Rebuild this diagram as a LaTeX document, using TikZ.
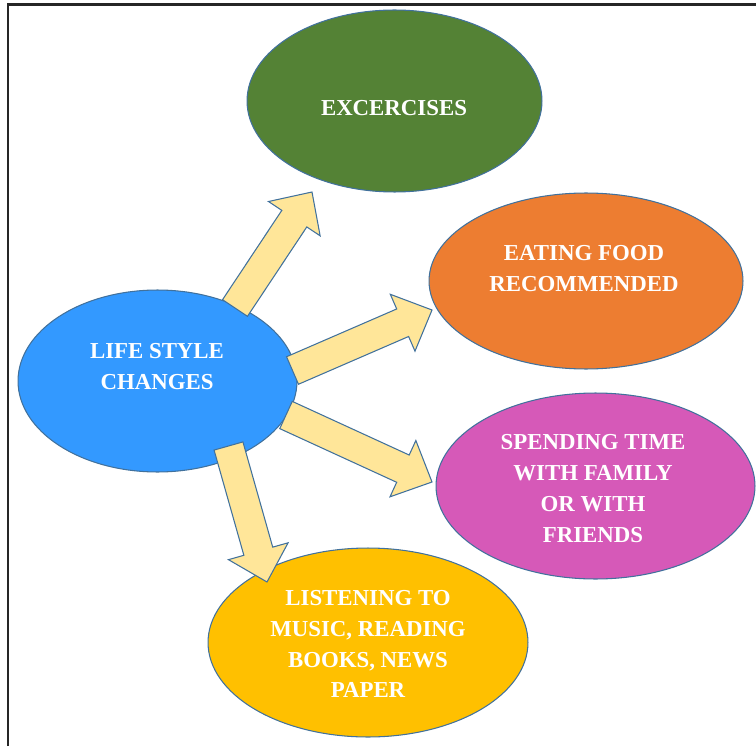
\documentclass[tikz,border=0pt]{standalone}
\usepackage{fontspec}
\setmainfont{Liberation Serif}
\usetikzlibrary{calc,shapes.geometric}
\definecolor{cgreen}{HTML}{548235}
\definecolor{corange}{HTML}{ED7D31}
\definecolor{cmagenta}{HTML}{D659B8}
\definecolor{cblue}{HTML}{3399FF}
\definecolor{cyellow}{HTML}{FFC000}
\definecolor{carrow}{HTML}{FFE699}
\definecolor{cedge}{HTML}{41719C}
\newcommand\blockarr[2]{%
  \path (#2) coordinate (T) ($(#2)!0.64cm!(#1)$) coordinate (H);
  \draw[barrow] ($(#1)!0.3cm!90:(#2)$) -- ($(H)!0.3cm!90:(T)$) -- ($(H)!0.62cm!90:(T)$)
    -- (T) -- ($(H)!0.62cm!-90:(T)$) -- ($(H)!0.3cm!-90:(T)$) -- ($(#1)!0.3cm!-90:(#2)$) -- cycle;}
\begin{document}
\begin{tikzpicture}[x=0.02cm,y=-0.02cm,
  ell/.style={ellipse,draw=cedge,line width=0.6pt,inner sep=0pt},
  lbl/.style={text=white,font=\fontsize{13}{17.6}\selectfont\bfseries,align=center,inner sep=0pt},
  barrow/.style={fill=carrow,draw=cedge,line width=0.6pt,line join=miter}]
\useasboundingbox (0,0) rectangle (756,746);
\draw[line width=1.2pt,black!85] (8,746) -- (8,4.5) -- (756,4.5);
% ellipses
\node[ell,fill=cgreen,minimum width=5.9cm,minimum height=3.64cm] (exc) at (394.5,101) {};
\node[ell,fill=corange,minimum width=6.28cm,minimum height=3.52cm] (eat) at (586,281) {};
\node[ell,fill=cmagenta,minimum width=6.38cm,minimum height=3.72cm] (spend) at (595.5,486) {};
\node[ell,fill=cyellow,minimum width=6.4cm,minimum height=3.78cm] (listen) at (368,642.5) {};
\node[ell,fill=cblue,minimum width=5.58cm,minimum height=3.64cm] (life) at (157.5,381) {};
% arrow end points
\coordinate (s1) at (235,308); \coordinate (t1) at (312,192);
\coordinate (s2) at (292.5,370.5); \coordinate (t2) at (432,310);
\coordinate (s3) at (286,415); \coordinate (t3) at (432,482);
\coordinate (s4) at (228.5,446); \coordinate (t4) at (267,582);
\blockarr{s1}{t1}
\blockarr{s2}{t2}
\blockarr{s3}{t3}
\blockarr{s4}{t4}
% labels
\node[lbl] (excT) at (394,108) {EXCERCISES};
\node[lbl] (eatT) at (584,269) {EATING FOOD\\RECOMMENDED};
\node[lbl] (spendT) at (593,488.5) {SPENDING TIME\\WITH FAMILY\\OR WITH\\FRIENDS};
\node[lbl] (listenT) at (368,644) {LISTENING TO\\MUSIC, READING\\BOOKS, NEWS\\PAPER};
\node[lbl] (lifeT) at (157,366.5) {LIFE STYLE\\CHANGES};
\end{tikzpicture}
\end{document}
